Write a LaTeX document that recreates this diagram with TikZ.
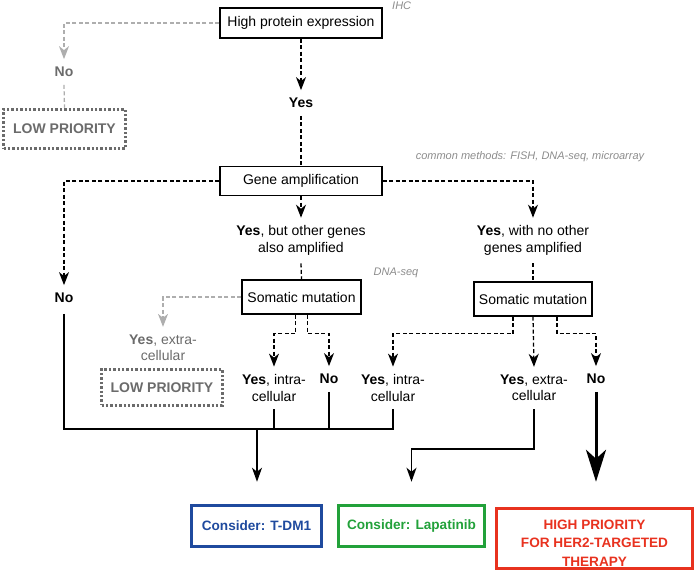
\documentclass[tikz,border=0pt]{standalone}
\usepackage{fontspec}
\setmainfont{Liberation Sans}
\usetikzlibrary{arrows.meta}
\definecolor{annot}{HTML}{8C8C8C}
\definecolor{lightgr}{HTML}{AEAEAE}
\definecolor{lowgr}{HTML}{6B6B6B}
\definecolor{cblue}{HTML}{1F4A9E}
\definecolor{cgreen}{HTML}{22A13A}
\definecolor{cred}{HTML}{E8321F}
\tikzset{
  box/.style={draw, line width=1.3pt, inner sep=0pt, font=\fontsize{14}{16.5}\selectfont},
  lowbox/.style={draw=lowgr, line width=3.5pt, dash pattern=on 2.4pt off 2pt, inner sep=0pt,
     text=lowgr, font=\fontsize{14}{16.5}\selectfont\bfseries},
  resbox/.style={draw, line width=3.5pt, inner sep=0pt, align=center,
     font=\fontsize{13.6}{18.5}\selectfont\bfseries},
  lbl/.style={inner sep=0pt, outer ysep=8pt, align=center, font=\fontsize{14}{16.5}\selectfont},
  glbl/.style={lbl, text=lowgr},
  annotation/.style={inner sep=0pt, text=annot, font=\fontsize{11}{13}\selectfont\itshape},
  dasharrow/.style={line width=1.3pt, dash pattern=on 4pt off 2.5pt,
     -{Stealth[length=13pt,width=10pt,inset=4pt]}},
  dashline/.style={line width=1.3pt, dash pattern=on 4pt off 2.5pt},
  graydasharrow/.style={dasharrow, draw=lightgr},
  graydashline/.style={dashline, draw=lightgr},
  solidline/.style={line width=1.3pt},
  solidarrow/.style={line width=1.3pt, -{Stealth[length=14pt,width=10pt,inset=4pt]}},
  bigarrow/.style={line width=3pt, -{Stealth[length=32pt,width=20pt,inset=9pt]}},
}
\begin{document}
\begin{tikzpicture}[x=1pt,y=-1pt]
\useasboundingbox (0,0) rectangle (697,572);

% boxes
\node[box, minimum width=162pt, minimum height=30pt] (hpe) at (301,23) {High protein expression};
\node[box, minimum width=162pt, minimum height=29pt] (gene) at (301,181) {Gene amplification};
\node[box, minimum width=119pt, minimum height=34pt] (sm1) at (301.5,297) {Somatic mutation};
\node[box, minimum width=118pt, minimum height=34pt] (sm2) at (533,299) {Somatic mutation};
\node[lowbox, minimum width=122pt, minimum height=39pt] (low1) at (64.5,129) {LOW PRIORITY};
\node[lowbox, minimum width=121pt, minimum height=36pt] (low2) at (162,387.5) {LOW PRIORITY};
\node[resbox, draw=cblue, text=cblue, minimum width=130pt, minimum height=41pt] (tdm1) at (256.5,526) {Consider: T-DM1};
\node[resbox, draw=cgreen, text=cgreen, minimum width=146pt, minimum height=41pt] (lap) at (411.5,526) {Consider: Lapatinib};
\node[resbox, draw=cred, text=cred, minimum width=196pt, minimum height=60pt] (high) at (594.5,538.5) {\rule{0pt}{18pt}HIGH PRIORITY\\FOR HER2-TARGETED\\THERAPY};

% labels
\node[glbl, font=\fontsize{14}{16.5}\selectfont\bfseries] (no1) at (64,72) {No};
\node[lbl, font=\fontsize{14}{16.5}\selectfont\bfseries] (yes1) at (301,103) {Yes};
\node[lbl, font=\fontsize{14}{16.5}\selectfont\bfseries] (no2) at (64,298) {No};
\node[lbl] (yb) at (301,240.5) {\textbf{Yes}, but other genes\\also amplified};
\node[lbl] (yn) at (533,240.5) {\textbf{Yes}, with no other\\genes amplified};
\node[glbl] (ye1) at (163,348) {\textbf{Yes}, extra-\\cellular};
\node[lbl] (yi1) at (274,388) {\textbf{Yes}, intra-\\cellular};
\node[lbl, font=\fontsize{14}{16.5}\selectfont\bfseries] (no3) at (329,379) {No};
\node[lbl] (yi2) at (393,388) {\textbf{Yes}, intra-\\cellular};
\node[lbl] (ye2) at (534,388) {\textbf{Yes}, extra-\\cellular};
\node[lbl, font=\fontsize{14}{16.5}\selectfont\bfseries] (no4) at (596,379) {No};

% annotations
\node[annotation, anchor=west] (ihc) at (392,6) {IHC};
\node[annotation] (cm) at (530,157) {common methods: FISH, DNA-seq, microarray};
\node[annotation] (dna) at (396,273) {DNA-seq};

% junction coordinates
\coordinate (j) at (257,429);
\coordinate (k) at (534,449);

% connectors
\draw[graydasharrow] (hpe.west) -| (no1.north);
\draw[graydashline] (no1.south) -- (low1.north);
\draw[dasharrow] (hpe.south) -- (yes1.north);
\draw[dashline] (yes1.south) -- (gene.north);
\draw[dasharrow] (gene.west) -| (no2.north);
\draw[dasharrow] (gene.south) -- (yb.north);
\draw[dasharrow] (gene.east) -| (yn.north);
\draw[dashline] (yb.south) -- (sm1.north);
\draw[dashline] (yn.south) -- (sm2.north);

\draw[graydasharrow] (sm1.west) -| (ye1.north);
\draw[dasharrow] ([xshift=-6pt]sm1.south) -- ++(0,19) -| (yi1.north);
\draw[dasharrow] ([xshift=6pt]sm1.south) -- ++(0,19) -| (no3.north);
\draw[dasharrow] ([xshift=-20pt]sm2.south) -- ++(0,17) -| (yi2.north);
\draw[dasharrow] (sm2.south) -- (ye2.north);
\draw[dasharrow] ([xshift=24pt]sm2.south) -- ++(0,17) -| (no4.north);

\draw[solidline] ([yshift=-3pt]no2.south) |- (j) -| (yi2.south);
\draw[solidline] (yi1.south) -- (yi1.south |- j);
\draw[solidline] (no3.south) -- (no3.south |- j);
\draw[solidarrow, shorten >=22pt] (j) -- (j |- tdm1.north);
\draw[solidarrow, shorten >=22pt] (ye2.south) |- (k) -| (lap.north);
\draw[bigarrow, shorten >=25pt] (no4.south) -- (no4.south |- high.north);
\end{tikzpicture}
\end{document}
